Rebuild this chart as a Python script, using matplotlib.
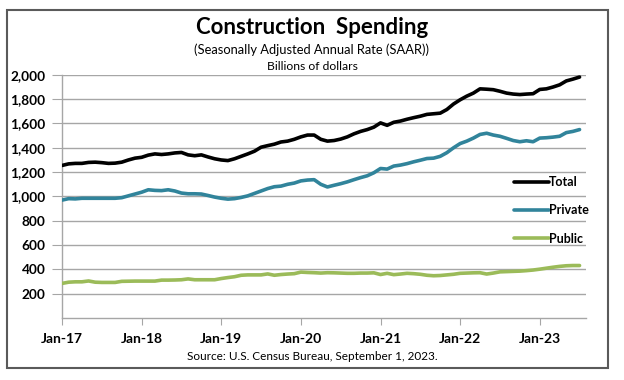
import matplotlib
matplotlib.use("Agg")
import matplotlib.pyplot as plt
from matplotlib.patches import Rectangle

plt.rcParams['font.family'] = ['Lato', 'DejaVu Sans']

# monthly values, Jan 2017 .. Jul 2023 (billions of dollars, SAAR)
total = [1255, 1268, 1272, 1272, 1280, 1282, 1278, 1272, 1274, 1282, 1300, 1315,
         1322, 1340, 1350, 1345, 1350, 1358, 1362, 1342, 1335, 1342, 1325, 1310,
         1300, 1295, 1310, 1330, 1350, 1372, 1405, 1418, 1430, 1448, 1455, 1470,
         1490, 1505, 1505, 1470, 1455, 1460, 1472, 1490, 1515, 1535, 1550, 1570,
         1605, 1585, 1610, 1620, 1635, 1648, 1660, 1675, 1680, 1685, 1715, 1760,
         1795, 1825, 1850, 1885, 1882, 1878, 1865, 1850, 1842, 1838, 1842, 1845,
         1880, 1885, 1900, 1918, 1950, 1965, 1982]
private = [970, 982, 980, 985, 985, 985, 985, 985, 985, 990, 1005, 1020,
           1035, 1055, 1050, 1048, 1055, 1045, 1028, 1022, 1022, 1020, 1008, 995,
           985, 978, 982, 992, 1005, 1025, 1045, 1065, 1080, 1085, 1100, 1110,
           1128, 1135, 1138, 1100, 1078, 1092, 1105, 1120, 1138, 1155, 1170, 1195,
           1230, 1225, 1250, 1258, 1270, 1285, 1298, 1312, 1315, 1330, 1360, 1400,
           1435, 1455, 1480, 1510, 1520, 1505, 1495, 1478, 1460, 1450, 1458, 1450,
           1480, 1483, 1488, 1495, 1525, 1535, 1550]
public = [285, 295, 298, 298, 305, 295, 293, 293, 293, 302, 303, 304,
          304, 304, 304, 312, 312, 313, 315, 322, 315, 315, 315, 315,
          325, 333, 340, 352, 355, 355, 355, 363, 352, 358, 362, 365,
          378, 375, 373, 370, 373, 372, 370, 368, 368, 370, 370, 372,
          358, 368, 357, 362, 368, 365, 360, 352, 348, 350, 355, 360,
          368, 370, 372, 373, 362, 370, 380, 382, 384, 386, 390, 395,
          402, 410, 418, 425, 430, 432, 432]
tick_labels = ["Jan-17", "Jan-18", "Jan-19", "Jan-20", "Jan-21", "Jan-22", "Jan-23"]
y_ticks = [200, 400, 600, 800, 1000, 1200, 1400, 1600, 1800, 2000]

months = list(range(len(total)))

fig = plt.figure(figsize=(6.24, 3.80), dpi=100)
fig.patches.append(Rectangle((0.011, 0.032), 0.964, 0.942, transform=fig.transFigure,
                             fill=False, edgecolor="#5a5a5a", linewidth=1.5))

ax = fig.add_axes([0.0994, 0.163, 0.840, 0.640])

grid_c = "#a6a6a6"
for v in y_ticks:
    ax.axhline(v, color=grid_c, linewidth=1.0, zorder=1)

ax.plot(months, total, color="black", linewidth=2.6, label="Total",
        solid_capstyle="round", zorder=3)
ax.plot(months, private, color="#31849b", linewidth=2.6, label="Private",
        solid_capstyle="round", zorder=3)
ax.plot(months, public, color="#9bbb59", linewidth=2.6, label="Public",
        solid_capstyle="round", zorder=3)

ax.set_xlim(0, 79)
ax.set_ylim(0, 2000)
ax.set_xticks(range(0, 79, 12))
ax.set_xticklabels(tick_labels, fontsize=10, fontweight="bold")
ax.set_yticks(y_ticks)
ax.set_yticklabels([f"{v:,}" for v in y_ticks], fontsize=9.8, fontweight="bold")
ax.tick_params(axis="x", direction="out", length=5, color=grid_c, pad=6)
ax.tick_params(axis="y", direction="out", length=7, color=grid_c, pad=5)
for s in ["top", "right"]:
    ax.spines[s].set_visible(False)
for s in ["left", "bottom"]:
    ax.spines[s].set_color(grid_c)
    ax.spines[s].set_linewidth(1.0)

leg = ax.legend(loc="upper left", bbox_to_anchor=(0.84, 0.63), frameon=False,
                handlelength=2.8, handletextpad=0.05, labelspacing=1.3,
                prop={"size": 9, "weight": "bold"})

fig.text(0.5, 0.928, "Construction  Spending", ha="center", va="center",
         fontsize=16, fontweight="bold")
fig.text(0.5, 0.870, "(Seasonally Adjusted Annual Rate (SAAR))", ha="center",
         va="center", fontsize=9.3)
fig.text(0.5, 0.826, "Billions of dollars", ha="center", va="center", fontsize=8.7)
fig.text(0.5, 0.062, "Source: U.S. Census Bureau, September 1, 2023.", ha="center",
         va="center", fontsize=8.5)

fig.savefig("out.png", dpi=100)
